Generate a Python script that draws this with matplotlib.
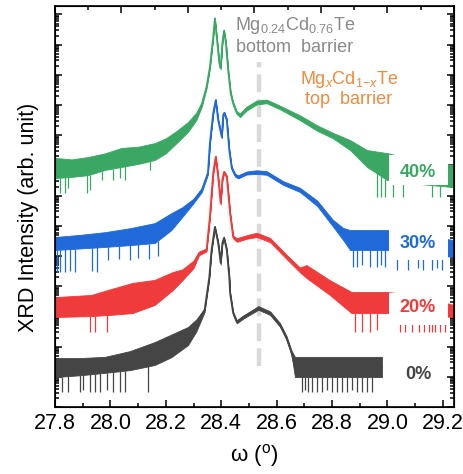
import matplotlib
matplotlib.use("Agg")
import matplotlib.pyplot as plt
import numpy as np
from matplotlib.patches import Rectangle
from matplotlib.ticker import FixedLocator, MultipleLocator, NullFormatter, FormatStrFormatter

plt.rcParams["font.family"] = ["Liberation Sans", "DejaVu Sans"]
plt.rcParams["mathtext.fontset"] = "custom"
plt.rcParams["mathtext.rm"] = "Liberation Sans"
plt.rcParams["mathtext.it"] = "Liberation Sans:italic"

# omega (deg) and log10 intensity envelopes (lower / upper edge of the noisy trace)
g_x = [27.80, 27.86, 27.92, 27.98, 28.04, 28.10, 28.16, 28.20, 28.24, 28.28, 28.31,
       28.33, 28.347, 28.359, 28.371, 28.377,
       28.386, 28.393, 28.398, 28.404, 28.41, 28.417, 28.425, 28.434, 28.443, 28.456,
       28.468, 28.492, 28.528, 28.564, 28.612, 28.684, 28.746, 28.803, 28.865, 28.926,
       28.998, 29.10, 29.24]
g_lo = [7.58, 7.62, 7.68, 7.85, 7.95, 8.05, 8.18, 8.40, 8.75, 9.11, 9.50,
        9.95, 10.55, 11.2, 12.2, 12.83,
        12.0, 11.35, 11.18, 12.0, 12.42, 12.0, 11.1, 10.35, 10.0, 9.7,
        9.6, 9.82, 10.02, 10.06, 9.86, 9.5, 9.15, 8.9, 8.51, 7.95,
        7.52, 7.4, 7.28]
g_hi = [8.25, 8.20, 8.28, 8.40, 8.58, 8.62, 8.74, 8.90, 9.15, 9.44, 9.75,
        10.10, 10.65, 11.3, 12.3, 12.9,
        12.1, 11.45, 11.26, 12.1, 12.5, 12.1, 11.2, 10.45, 10.1, 9.8,
        9.72, 9.95, 10.15, 10.18, 9.98, 9.66, 9.33, 9.08, 8.84, 8.51,
        8.41, 8.2, 8.01]
g_spk_x = [27.818, 27.836, 27.847, 27.915, 27.926, 27.970, 28.009, 28.035, 28.053, 28.143,
           28.962, 28.976, 28.991, 29.020, 29.056, 29.160, 29.189]
g_spk_y = [7.09, 7.09, 7.25, 7.09, 7.19, 7.52, 7.52, 7.58, 7.52, 7.85,
           6.95, 6.95, 6.95, 6.95, 6.95, 6.95, 6.95]

b_x = [27.80, 27.89, 27.98, 28.07, 28.16, 28.22, 28.26, 28.30, 28.33, 28.352, 28.359,
       28.371, 28.38,
       28.389, 28.402, 28.407, 28.411, 28.42, 28.429, 28.438, 28.45, 28.461, 28.492,
       28.528, 28.564, 28.623, 28.684, 28.746, 28.803, 28.84, 28.865, 28.998, 29.10, 29.24]
b_lo = [5.20, 5.25, 5.30, 5.36, 5.43, 5.86, 6.30, 6.75, 7.12, 7.7, 8.68,
        9.68, 10.12,
        9.45, 8.9, 9.62, 9.7, 9.45, 8.46, 7.86, 7.63, 7.57, 7.7,
        7.72, 7.69, 7.36, 7.12, 6.66, 5.98, 5.53, 5.20, 5.20, 5.1, 4.97]
b_hi = [5.63, 5.70, 5.79, 5.92, 6.09, 6.42, 6.62, 6.90, 7.25, 7.8, 8.78,
        9.78, 10.2,
        9.55, 8.98, 9.7, 9.78, 9.55, 8.56, 7.96, 7.73, 7.67, 7.8,
        7.84, 7.81, 7.48, 7.26, 6.84, 6.2, 5.93, 5.86, 5.86, 5.7, 5.53]
b_spk_x = [27.807, 27.818, 27.836, 27.854, 27.872, 27.934, 27.952,
           27.99, 28.03, 28.07, 28.10, 28.14, 28.17,
           28.875, 28.89, 28.908, 28.937, 28.962, 28.976, 28.991,
           29.034, 29.074, 29.11, 29.128, 29.160, 29.179, 29.196]
b_spk_y = [4.47, 4.47, 4.47, 4.5, 4.47, 4.5, 4.47,
           4.87, 4.9, 4.87, 4.95, 4.9, 5.0,
           4.64, 4.64, 4.7, 4.64, 4.64, 4.7, 4.64,
           4.54, 4.54, 4.6, 4.54, 4.54, 4.6, 4.54]

r_x = [27.80, 27.93, 28.00, 28.08, 28.16, 28.225, 28.26, 28.30, 28.32, 28.347, 28.359,
       28.371, 28.38, 28.389, 28.398, 28.404, 28.41, 28.42, 28.432, 28.443, 28.456, 28.492,
       28.528, 28.576, 28.636, 28.684, 28.708, 28.792, 28.87, 28.998, 29.10, 29.24]
r_lo = [2.98, 3.01, 3.05, 3.11, 3.38, 3.87, 4.20, 4.60, 5.03, 5.15, 6.24,
        7.7, 8.24, 7.57, 6.7, 7.47, 7.74, 7.57, 6.37, 5.58, 5.47, 5.57,
        5.63, 5.46, 4.9, 4.46, 4.27, 3.71, 3.11, 3.11, 3.05, 2.98]
r_hi = [3.64, 3.71, 3.90, 4.11, 4.21, 4.47, 4.56, 4.85, 5.15, 5.25, 6.34,
        7.8, 8.32, 7.67, 6.8, 7.57, 7.82, 7.67, 6.47, 5.68, 5.59, 5.69,
        5.77, 5.6, 5.04, 4.62, 4.70, 4.2, 3.81, 3.81, 3.7, 3.38]
r_spk_x = [27.926, 27.944, 27.988, 28.883, 28.908, 28.937, 28.962,
           29.045, 29.063, 29.088, 29.114, 29.132, 29.150, 29.160, 29.171, 29.189, 29.207]
r_spk_y = [2.48, 2.48, 2.48, 2.48, 2.48, 2.48, 2.55,
           2.48, 2.48, 2.48, 2.48, 2.48, 2.48, 2.48, 2.48, 2.48, 2.48]

k_x = [27.80, 27.89, 27.98, 28.07, 28.16, 28.22, 28.28, 28.31, 28.34, 28.357, 28.365,
       28.377, 28.389, 28.398,
       28.404, 28.41, 28.42, 28.429, 28.432, 28.443, 28.456, 28.48, 28.534, 28.576,
       28.612, 28.636, 28.654, 28.666, 28.98]
k_lo = [0.99, 1.05, 1.13, 1.22, 1.39, 1.65, 2.05, 2.50, 3.15, 4.25, 5.15,
        5.92, 5.38, 4.72,
        5.38, 5.56, 5.15, 4.25, 3.72, 3.06, 2.77, 2.93, 3.22, 3.05,
        2.66, 2.22, 1.72, 0.99, 0.99]
k_hi = [1.62, 1.62, 1.66, 1.85, 2.15, 2.40, 2.65, 2.90, 3.27, 4.35, 5.25,
        6.0, 5.48, 4.82,
        5.48, 5.64, 5.25, 4.35, 3.82, 3.16, 2.87, 3.03, 3.34, 3.17,
        2.78, 2.34, 1.86, 1.66, 1.66]
k_spk_x = [27.825, 27.847, 27.890, 27.901, 27.926, 27.944, 27.962, 27.988, 28.009, 28.035,
           28.053, 28.136, 28.691, 28.702, 28.713, 28.727, 28.746, 28.764, 28.782, 28.800,
           28.818, 28.836, 28.854, 28.872, 28.890, 28.908, 28.926, 28.944]
k_spk_y = [0.5, 0.5, 0.5, 0.55, 0.5, 0.5, 0.5, 0.55, 0.5, 0.5,
           0.5, 0.5, 0.5, 0.55, 0.5, 0.5, 0.5, 0.5, 0.55, 0.5,
           0.5, 0.5, 0.5, 0.55, 0.5, 0.5, 0.5, 0.5]

labels = ["40%", "30%", "20%", "0%"]
label_y = [7.78, 5.43, 3.28, 1.06]
box_y = [(7.35, 8.34), (4.87, 5.93), (2.72, 3.77), None]
colors = ["#3aa864", "#1f6ad8", "#ef3b3b", "#454545"]

series = [
    (g_x, g_lo, g_hi, g_spk_x, g_spk_y),
    (b_x, b_lo, b_hi, b_spk_x, b_spk_y),
    (r_x, r_lo, r_hi, r_spk_x, r_spk_y),
    (k_x, k_lo, k_hi, k_spk_x, k_spk_y),
]

fig = plt.figure(figsize=(4.64, 4.74), dpi=100)
ax = fig.add_axes([0.1185, 0.1414, 0.8599, 0.8459])

# y is plotted in decades (log10 of intensity) so the log-scale ticks are set by hand
ax.vlines(28.535, 1.36, 11.42, colors="#d9d9d9", lw=3.2,
          linestyles=(0, (4, 1.6)), zorder=1)

for (xs, lo, hi, sx, sy), c in zip(series, colors):
    lo = np.array(lo)
    hi = np.array(hi)
    ax.fill_between(xs, lo, hi, color=c, lw=0.6, zorder=2)
    ax.plot(xs, (lo + hi) / 2, color=c, lw=1.3, zorder=2)
    top = np.interp(sx, xs, lo)
    ax.vlines(sx, sy, top, colors=c, lw=0.9, zorder=2)

for lab, ly, by, c in zip(labels, label_y, box_y, colors):
    if by is not None:
        ax.add_patch(Rectangle((29.005, by[0]), 0.213, by[1] - by[0],
                               facecolor="white", edgecolor="none", zorder=3))
    ax.text(29.11, ly, lab, color=c, fontsize=13, fontweight="bold",
            ha="center", va="center", zorder=4)

ax.text(28.666, 12.65, r"Mg$_{0.24}$Cd$_{0.76}$Te", color="#8a8a8a",
        fontsize=13, ha="center", va="center", zorder=4)
ax.text(28.666, 11.92, "bottom  barrier", color="#8a8a8a",
        fontsize=13, ha="center", va="center", zorder=4)
ax.text(28.861, 10.83, r"Mg$_{\mathit{x}}$Cd$_{1\mathrm{-}\mathit{x}}$Te", color="#f08a3c",
        fontsize=13, ha="center", va="center", zorder=4)
ax.text(28.861, 10.17, "top  barrier", color="#f08a3c",
        fontsize=13, ha="center", va="center", zorder=4)

ax.set_xlim(27.8, 29.24)
ax.set_ylim(0, 13.28)
decades = np.arange(0, 14)
ax.xaxis.set_major_locator(MultipleLocator(0.2))
ax.xaxis.set_minor_locator(MultipleLocator(0.1))
ax.xaxis.set_major_formatter(FormatStrFormatter("%.1f"))
ax.yaxis.set_major_locator(FixedLocator(decades))
ax.yaxis.set_minor_locator(FixedLocator((decades[:, None] + np.log10(np.arange(2, 10))).ravel()))
ax.yaxis.set_major_formatter(NullFormatter())
ax.tick_params(which="both", direction="in", width=1.1, top=False, right=True, bottom=True, left=True)
ax.tick_params(which="major", length=5)
ax.tick_params(which="minor", length=3)
ax.tick_params(axis="x", labelsize=15.5, pad=4)
for s in ax.spines.values():
    s.set_linewidth(1.2)

top_ax = ax.twiny()
top_ax.set_xlim(0, 12)
top_ax.xaxis.set_major_locator(MultipleLocator(2))
top_ax.xaxis.set_minor_locator(MultipleLocator(1))
top_ax.xaxis.set_major_formatter(NullFormatter())
top_ax.tick_params(which="both", direction="in", width=1.1)
top_ax.tick_params(which="major", length=5)
top_ax.tick_params(which="minor", length=3)

ax.set_xlabel(r"ω ($\mathregular{^o}$)", fontsize=16, labelpad=6)
ax.set_ylabel("XRD Intensity (arb. unit)", fontsize=15.5)
ax.yaxis.set_label_coords(-0.041, 0.474)

fig.savefig("out.png", dpi=100)
